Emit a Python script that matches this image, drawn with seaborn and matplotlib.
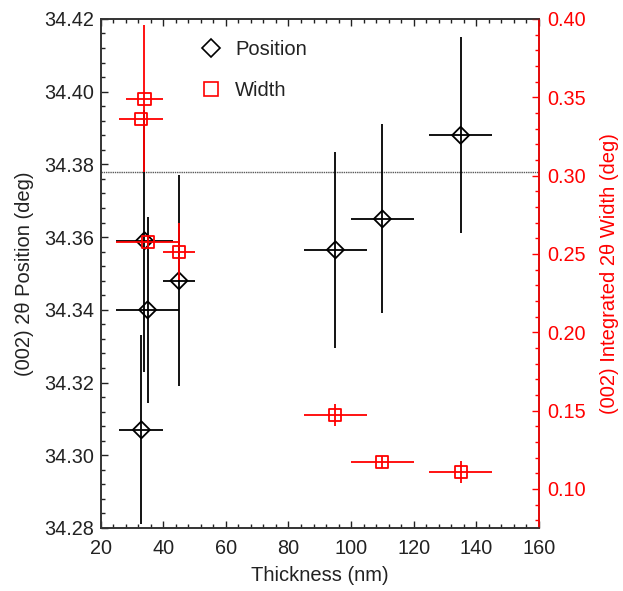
import numpy as np
import pandas as pd
import matplotlib
matplotlib.use("Agg")
import matplotlib.pyplot as plt
from matplotlib.lines import Line2D
from matplotlib.ticker import MultipleLocator, FormatStrFormatter
import seaborn as sns

# --- data ---
pos_thick = [33, 35, 34, 45, 95, 110, 135]
pos_thick_err = [7, 10, 9, 5, 10, 10, 10]
pos_val = [34.307, 34.340, 34.359, 34.348, 34.3565, 34.365, 34.388]
pos_err = [0.026, 0.0255, 0.036, 0.029, 0.027, 0.026, 0.027]

width_thick = [33, 34, 35, 45, 95, 110, 135]
width_thick_err = [7, 6, 10, 5, 10, 10, 10]
width_val = [0.336, 0.349, 0.2575, 0.2515, 0.147, 0.117, 0.111]
width_err = [0.0, 0.047, 0.003, 0.018, 0.007, 0.004, 0.007]

ref_position = 34.378

pos_df = pd.DataFrame({"Thickness": pos_thick, "Position": pos_val})
width_df = pd.DataFrame({"Thickness": width_thick, "Width": width_val})

sns.set_theme(style="ticks")
plt.rcParams["font.family"] = ["Liberation Sans", "DejaVu Sans"]

fig, ax = plt.subplots(figsize=(6.23, 5.91), dpi=100)
fig.subplots_adjust(left=0.1616, right=0.865, top=0.968, bottom=0.1066)

# position (left axis)
ax.axhline(ref_position, color="0.35", lw=1.0, ls=(0, (1, 0.6)), zorder=1)
ax.errorbar(pos_thick, pos_val, xerr=pos_thick_err, yerr=pos_err, fmt="none",
            ecolor="black", elinewidth=1.3, capsize=0, zorder=2)
sns.scatterplot(data=pos_df, x="Thickness", y="Position", ax=ax, marker="D",
                s=75, facecolors="none", edgecolor="black", linewidth=1.3, zorder=3)

ax.set_xlim(20, 160)
ax.set_ylim(34.28, 34.42)
ax.xaxis.set_major_locator(MultipleLocator(20))
ax.xaxis.set_minor_locator(MultipleLocator(4))
ax.yaxis.set_major_locator(MultipleLocator(0.02))
ax.yaxis.set_minor_locator(MultipleLocator(0.004))
ax.yaxis.set_major_formatter(FormatStrFormatter("%.2f"))
ax.tick_params(which="both", direction="in", top=True, right=False,
               colors="#222222", labelsize=14.3, width=1, pad=5)
ax.tick_params(axis="x", which="both", pad=8)
ax.tick_params(which="major", length=5)
ax.tick_params(which="minor", length=3)
ax.set_xlabel("Thickness (nm)", fontsize=14.5, labelpad=6, color="#222222")
ax.set_ylabel("(002) 2θ Position (deg)", fontsize=14.5, labelpad=7, color="#222222")
for s in ax.spines.values():
    s.set_linewidth(1.2)
    s.set_color("#333333")

# width (right axis)
ax2 = ax.twinx()
ax2.errorbar(width_thick, width_val, xerr=width_thick_err, yerr=width_err, fmt="none",
             ecolor="red", elinewidth=1.3, capsize=0, zorder=2)
sns.scatterplot(data=width_df, x="Thickness", y="Width", ax=ax2, marker="s",
                s=75, facecolors="none", edgecolor="red", linewidth=1.3, zorder=3)
ax2.set_ylim(0.075, 0.40)
ax2.yaxis.set_major_locator(MultipleLocator(0.05))
ax2.yaxis.set_minor_locator(MultipleLocator(0.01))
ax2.yaxis.set_major_formatter(FormatStrFormatter("%.2f"))
ax2.tick_params(which="both", direction="in", colors="red", labelsize=14.3, width=1, pad=6)
ax2.tick_params(which="major", length=5)
ax2.tick_params(which="minor", length=3)
ax2.set_ylabel("(002) Integrated 2θ Width (deg)", color="red", fontsize=14.5, labelpad=10)
for name, s in ax2.spines.items():
    s.set_linewidth(1.2)
    s.set_color("red" if name == "right" else "#333333")

handles = [
    Line2D([], [], ls="none", marker="D", ms=9, mfc="none", mec="black", mew=1.2),
    Line2D([], [], ls="none", marker="s", ms=10, mfc="none", mec="red", mew=1.2),
]
leg = ax2.legend(handles, ["Position", "Width"], loc="upper left",
                 bbox_to_anchor=(0.183, 0.995), frameon=False, fontsize=14.5,
                 labelspacing=1.1, handletextpad=0.6, handlelength=1.2)
for t in leg.get_texts():
    t.set_color("#222222")

plt.savefig("out.png", dpi=100)
